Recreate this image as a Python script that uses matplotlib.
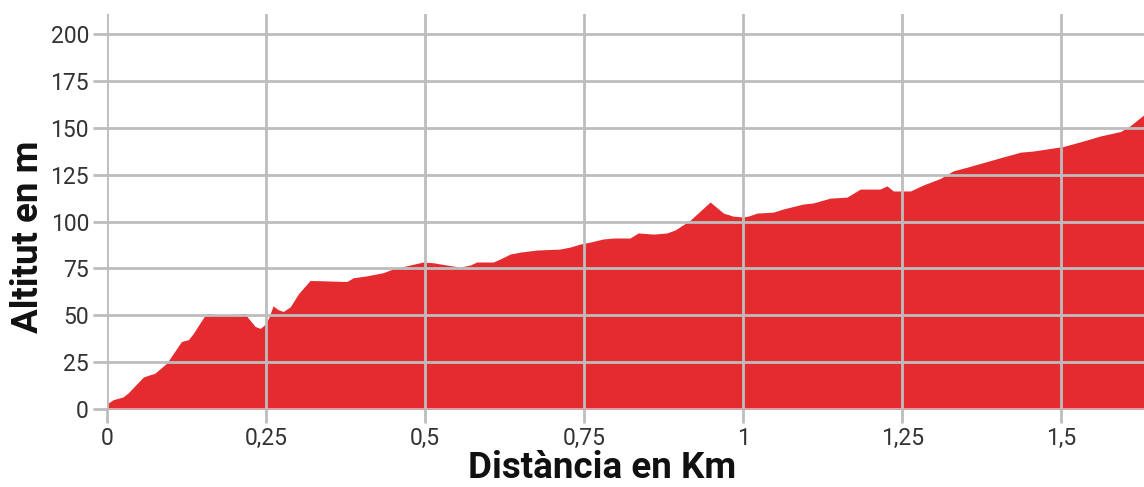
import matplotlib
matplotlib.use("Agg")
import matplotlib.pyplot as plt

# perfil d'altitud (km, m)
dist_km = [0.0, 0.003, 0.01, 0.025, 0.033, 0.057, 0.065, 0.075, 0.094, 0.117, 0.128, 0.136,
           0.154, 0.159, 0.178, 0.209, 0.217, 0.222, 0.233, 0.241, 0.248, 0.254, 0.261, 0.269,
           0.277, 0.288, 0.301, 0.319, 0.327, 0.377, 0.387, 0.408, 0.434, 0.448, 0.466, 0.497,
           0.513, 0.534, 0.555, 0.571, 0.581, 0.607, 0.618, 0.634, 0.650, 0.676, 0.712, 0.728,
           0.744, 0.759, 0.780, 0.796, 0.822, 0.835, 0.859, 0.880, 0.893, 0.917, 0.948, 0.953,
           0.969, 0.984, 1.0, 1.008, 1.022, 1.047, 1.063, 1.094, 1.110, 1.137, 1.163, 1.184,
           1.215, 1.226, 1.236, 1.263, 1.283, 1.310, 1.330, 1.352, 1.404, 1.436, 1.456, 1.483,
           1.503, 1.535, 1.561, 1.593, 1.608, 1.630]
altitud = [2.0, 3.5, 5.0, 6.4, 8.5, 17.0, 18.0, 19.0, 24.5, 36.0, 37.0, 40.5,
           50.0, 51.0, 50.0, 50.7, 51.0, 48.5, 44.0, 43.0, 45.0, 48.5, 55.0, 53.0,
           52.0, 54.5, 61.5, 68.5, 68.5, 68.0, 70.0, 71.0, 72.7, 74.5, 76.0, 78.4,
           78.0, 76.8, 75.7, 76.8, 78.4, 78.4, 80.0, 82.7, 83.7, 84.8, 85.3, 86.4,
           88.0, 89.0, 90.7, 91.2, 91.2, 93.9, 93.3, 93.9, 95.5, 100.8, 110.4, 109.0,
           104.5, 102.9, 102.4, 102.9, 104.5, 105.0, 106.7, 109.3, 109.9, 112.5, 113.0, 117.3,
           117.3, 119.0, 116.3, 116.3, 119.5, 123.0, 127.0, 129.0, 134.0, 137.0, 137.6, 139.0,
           140.0, 143.0, 145.6, 148.0, 151.0, 157.0]

x_ticks = [0, 0.25, 0.5, 0.75, 1, 1.25, 1.5]
x_labels = ["0", "0,25", "0,5", "0,75", "1", "1,25", "1,5"]
y_ticks = [0, 25, 50, 75, 100, 125, 150, 175, 200]

plt.rcParams['font.family'] = ['Roboto', 'DejaVu Sans']

fig = plt.figure(figsize=(11.44, 4.87), dpi=100)
ax = fig.add_axes([107 / 1144, 1 - 409 / 487, 1 - 107 / 1144, 395 / 487])

ax.fill_between(dist_km, altitud, 0, color='#e32b30', linewidth=0, zorder=1)

ax.set_xlim(0, 1.630)
ax.set_ylim(0, 210.7)
ax.set_xticks(x_ticks)
ax.set_xticklabels(x_labels)
ax.set_yticks(y_ticks)

ax.set_axisbelow(False)
ax.grid(True, color='#bdbdbd', linewidth=2)
for s in ax.spines.values():
    s.set_visible(False)
ax.tick_params(axis='both', length=10, width=2, color='#bdbdbd',
               labelsize=16.5, labelcolor='#333333', pad=3)

ax.set_xlabel("Distància en Km", fontsize=26.5, fontweight='bold', color='#111111')
ax.set_ylabel("Altitut en m", fontsize=26.5, fontweight='bold', color='#111111')
ax.xaxis.set_label_coords(0.477, -0.104)
ax.yaxis.set_label_coords(-0.059, 0.435)

fig.savefig("out.png", dpi=100)
